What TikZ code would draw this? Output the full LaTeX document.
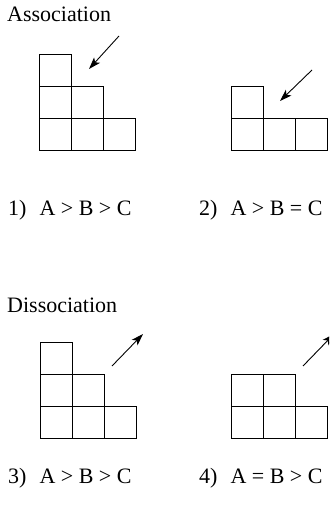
\documentclass[tikz,border=0pt]{standalone}
\usepackage{fontspec}
\setmainfont{Liberation Serif}
\usetikzlibrary{arrows.meta}
\begin{document}
\begin{tikzpicture}[x=1pt,y=-1pt,
  cell/.style={draw=black,line width=0.9pt},
  ptr/.style={line width=0.9pt,-{Stealth[length=12pt,width=8pt,inset=3pt]}},
  lbl/.style={anchor=base west,inner sep=0pt,font=\fontsize{22}{26}\selectfont}]
\useasboundingbox (0,0) rectangle (329,508);
\begin{scope}
\clip (0,0) rectangle (329,508);
% titles
\node[lbl] (assoc) at (7,22) {Association};
\node[lbl] (dissoc) at (7,312) {Dissociation};
% panel 1
\draw[cell] (39,54) rectangle (71,86);
\draw[cell] (39,86) rectangle (71,118);
\draw[cell] (71,86) rectangle (103,118);
\draw[cell] (39,118) rectangle (71,150);
\draw[cell] (71,118) rectangle (103,150);
\draw[cell] (103,118) rectangle (135,150);
\coordinate (a1s) at (119,36);
\coordinate (a1e) at (89,69);
\draw[ptr] (a1s) -- (a1e);
% panel 2
\draw[cell] (231,86) rectangle (263,118);
\draw[cell] (231,118) rectangle (263,150);
\draw[cell] (263,118) rectangle (295,150);
\draw[cell] (295,118) rectangle (327,150);
\coordinate (a2s) at (312,70);
\coordinate (a2e) at (280,101);
\draw[ptr] (a2s) -- (a2e);
% labels
\node[lbl] (l1) at (8,215) {1)\hspace{13pt}A > B > C};
\node[lbl] (l2) at (199,215) {2)\hspace{13pt}A > B = C};
% panel 3
\draw[cell] (40,342) rectangle (72,374);
\draw[cell] (40,374) rectangle (72,406);
\draw[cell] (72,374) rectangle (104,406);
\draw[cell] (40,406) rectangle (72,438);
\draw[cell] (72,406) rectangle (104,438);
\draw[cell] (104,406) rectangle (136,438);
\coordinate (a3s) at (112,366);
\coordinate (a3e) at (143,334);
\draw[ptr] (a3s) -- (a3e);
% panel 4
\draw[cell] (231,374) rectangle (263,406);
\draw[cell] (263,374) rectangle (295,406);
\draw[cell] (231,406) rectangle (263,438);
\draw[cell] (263,406) rectangle (295,438);
\draw[cell] (295,406) rectangle (327,438);
\coordinate (a4s) at (303,366);
\coordinate (a4e) at (334,334);
\draw[ptr] (a4s) -- (a4e);
% labels
\node[lbl] (l3) at (8,483) {3)\hspace{13pt}A > B > C};
\node[lbl] (l4) at (199,483) {4)\hspace{13pt}A = B > C};
\end{scope}
\end{tikzpicture}
\end{document}
